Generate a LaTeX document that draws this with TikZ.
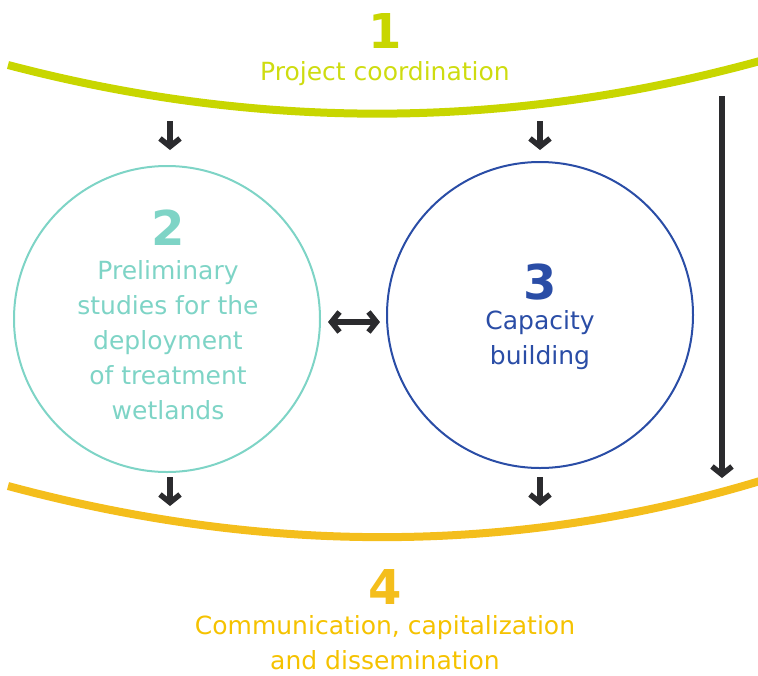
\documentclass[tikz,border=0pt]{standalone}
\usepackage{fontspec}
\setmainfont{DejaVu Sans}
\usetikzlibrary{arrows.meta}
\definecolor{cLime}{HTML}{C8D600}
\definecolor{cLimeT}{HTML}{CEDC10}
\definecolor{cTeal}{HTML}{7ED4C6}
\definecolor{cBlue}{HTML}{2A4DA6}
\definecolor{cGold}{HTML}{F4BE1C}
\definecolor{cGoldT}{HTML}{F5C200}
\definecolor{cDark}{HTML}{2B2B2E}
\tikzset{
  band/.style={line width=8pt},
  arr/.style={draw=cDark, line width=5.5pt, -{Straight Barb[length=8pt,width=20pt]}},
  darr/.style={draw=cDark, line width=5.5pt, {Straight Barb[length=8pt,width=20pt]}-{Straight Barb[length=8pt,width=20pt]}},
  ring/.style={circle, line width=2pt, minimum size=306pt, inner sep=0pt},
  big/.style={font=\fontsize{48}{48}\selectfont\bfseries},
  lbl/.style={font=\fontsize{25}{35}\selectfont, align=center}
}
\begin{document}
\begin{tikzpicture}[x=1pt,y=-1pt]
\useasboundingbox (0,0) rectangle (758,675);
% bands
\draw[band, cLime] (8,65) .. controls (259,131) and (509,130) .. (760,61);
\draw[band, cGold] (8,486) .. controls (265,555) and (515,555) .. (760,481);
% circles
\node[ring, draw=cTeal] (c2) at (167,319) {};
\node[ring, draw=cBlue] (c3) at (540,315) {};
% texts
\node[big, text=cLime] (n1) at (385,31) {1};
\node[lbl, text=cLimeT] (t1) at (385,74) {Project coordination};
\node[big, text=cTeal] (n2) at (168,228) {2};
\node[lbl, text=cTeal] (t2) at (168,340) {Preliminary\\studies for the\\deployment\\of treatment\\wetlands};
\node[big, text=cBlue] (n3) at (540,282) {3};
\node[lbl, text=cBlue] (t3) at (540,340) {Capacity\\building};
\node[big, text=cGold] (n4) at (385,587) {4};
\node[lbl, text=cGoldT] (t4) at (385,643) {Communication, capitalization\\and dissemination};
% arrow end points
\coordinate (a1s) at (170,121); \coordinate (a1e) at (170,150);
\coordinate (a2s) at (540,121); \coordinate (a2e) at (540,150);
\coordinate (a3s) at (170,477); \coordinate (a3e) at (170,506);
\coordinate (a4s) at (540,477); \coordinate (a4e) at (540,506);
\coordinate (ls) at (722,96); \coordinate (le) at (722,478);
\coordinate (ds) at (328,322); \coordinate (de) at (380,322);
\draw[arr] (a1s) -- (a1e);
\draw[arr] (a2s) -- (a2e);
\draw[arr] (a3s) -- (a3e);
\draw[arr] (a4s) -- (a4e);
\draw[arr] (ls) -- (le);
\draw[darr] (ds) -- (de);
\end{tikzpicture}
\end{document}
